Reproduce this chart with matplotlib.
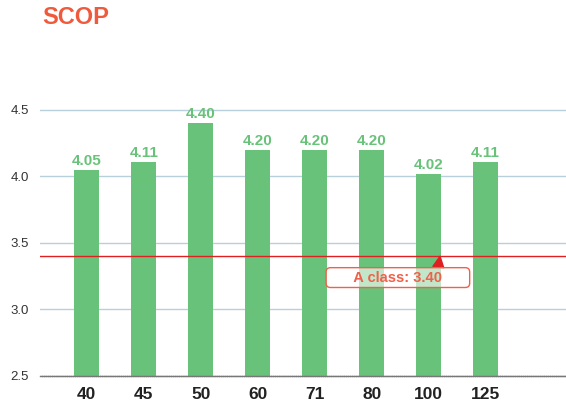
import matplotlib.pyplot as plt

plt.rcParams["font.family"] = ["Liberation Sans", "DejaVu Sans"]

sizes = ["40", "45", "50", "60", "71", "80", "100", "125"]
scop = [4.05, 4.11, 4.40, 4.20, 4.20, 4.20, 4.02, 4.11]
a_class = 3.40
a_class_label = "A class: 3.40"

bar_color = "#69c27a"
red = "#e02020"
label_red = "#f0604a"

fig = plt.figure(figsize=(5.66, 4.03), dpi=100)
# axes: left 40px, right 566px, bottom 376px, top 64px
ax = fig.add_axes([40 / 566, 27 / 403, 526 / 566, 312 / 403])

x = list(range(len(sizes)))
ax.bar(x, scop, width=0.44, color=bar_color, zorder=2)

for xi, v in zip(x, scop):
    ax.annotate(f"{v:.2f}", (xi, v), xytext=(0, 1.5), textcoords="offset points",
                ha="center", va="bottom", color=bar_color, fontsize=11,
                fontweight="bold", zorder=4)

ax.set_xlim(-0.82, 8.41)
ax.set_ylim(2.5, 2.5 + 312 / 133)
ax.set_yticks([2.5, 3.0, 3.5, 4.0, 4.5])
ax.set_yticklabels(["2.5", "3.0", "3.5", "4.0", "4.5"])
ax.set_xticks(x)
ax.set_xticklabels(sizes, fontsize=12.5, fontweight="bold", color="#222222")
ax.tick_params(axis="y", length=0, labelsize=9.5, labelcolor="#333333", pad=8)
ax.tick_params(axis="x", length=0, pad=8)

ax.grid(axis="y", color="#b8d0dc", linewidth=1, zorder=0)
for s in ["top", "right", "left"]:
    ax.spines[s].set_visible(False)
ax.spines["bottom"].set_color("#777777")
ax.spines["bottom"].set_linestyle((0, (1, 0.5)))
ax.spines["bottom"].set_linewidth(1)

# reference threshold line, drawn over the bars
ax.axhline(a_class, color=red, linewidth=1, zorder=3)
ax.annotate("      " + a_class_label + "      ", xy=(6.2, a_class), xytext=(5.46, a_class - 0.16),
            ha="center", va="center", color=label_red, fontsize=10.5,
            fontweight="bold", zorder=5,
            bbox=dict(boxstyle="round,pad=0.2,rounding_size=0.3", fc=(1, 1, 1, 0.6),
                      ec=label_red, lw=1),
            arrowprops=dict(arrowstyle="wedge,tail_width=0.75", color=red,
                            shrinkA=0, shrinkB=0, relpos=(0.79, 1.0)))

fig.text(42 / 566, 1 - 18 / 403, "SCOP", color="#f05a3c", fontsize=17,
         fontweight="bold", va="center", ha="left")

fig.savefig("out.png", dpi=100)
